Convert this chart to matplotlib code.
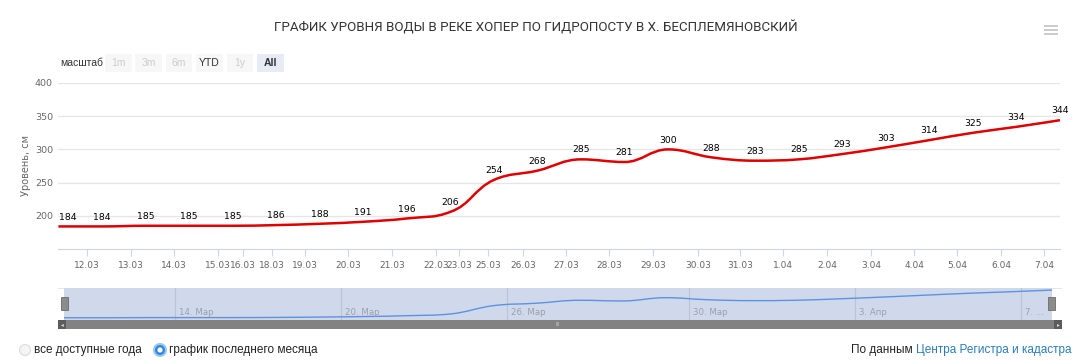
import numpy as np
import matplotlib
matplotlib.use("Agg")
import matplotlib.pyplot as plt
from matplotlib.path import Path
from matplotlib.patches import PathPatch, Rectangle, Circle

# water level, cm (one point per day, ordinal axis)
levels = [184, 184, 185, 185, 185, 186, 188, 191, 196, 206, 254, 268,
          285, 281, 300, 288, 283, 285, 293, 303, 314, 325, 334, 344]
tick_labels = ["12.03", "13.03", "14.03", "15.03", "16.03", "18.03", "19.03",
               "20.03", "21.03", "22.03", "23.03", "25.03", "26.03", "27.03",
               "28.03", "29.03", "30.03", "31.03", "1.04", "2.04", "3.04",
               "4.04", "5.04", "6.04", "7.04"]
tick_pos = [0.66, 1.67, 2.65, 3.66, 4.24, 4.90, 5.66, 6.65, 7.66, 8.67, 9.21,
            9.86, 10.67, 11.66, 12.64, 13.65, 14.69, 15.65, 16.64, 17.65,
            18.66, 19.65, 20.63, 21.65, 22.63]
nav_labels = ["14. Мар", "20. Мар", "26. Мар", "30. Мар", "3. Апр", "7. ..."]
nav_pos = [2.58, 6.45, 10.31, 14.55, 18.41, 22.28]
y_ticks = [200, 250, 300, 350, 400]

W, H = 1080, 363
fig = plt.figure(figsize=(W / 100, H / 100), dpi=100)

def px_axes(x0, y0, x1, y1):
    return fig.add_axes([x0 / W, 1 - y1 / H, (x1 - x0) / W, (y1 - y0) / H])

deco = fig.add_axes([0, 0, 1, 1])
deco.set_xlim(0, W)
deco.set_ylim(H, 0)
deco.axis("off")


def spline_path(ax, xs, ys):
    # highcharts-like spline, control points computed in display space
    pts = ax.transData.transform(np.column_stack([xs, ys]))
    n = len(pts)
    lc = pts.copy()
    rc = pts.copy()
    for i in range(1, n - 1):
        lx, ly = pts[i - 1]
        px, py = pts[i]
        nx, ny = pts[i + 1]
        lcx, lcy = (1.5 * px + lx) / 2.5, (1.5 * py + ly) / 2.5
        rcx, rcy = (1.5 * px + nx) / 2.5, (1.5 * py + ny) / 2.5
        dl = np.hypot(lcx - px, lcy - py)
        dr = np.hypot(rcx - px, rcy - py)
        la = np.arctan2(lcy - py, lcx - px)
        ra = np.arctan2(rcy - py, rcx - px)
        ja = np.pi / 2 + (la + ra) / 2
        if abs(la - ja) > np.pi / 2:
            ja -= np.pi
        lcx, lcy = px + np.cos(ja) * dl, py + np.sin(ja) * dl
        rcx, rcy = px + np.cos(np.pi + ja) * dr, py + np.sin(np.pi + ja) * dr
        if rcy > py and rcy > ny:
            rcy = max(py, ny); lcy = 2 * py - rcy
        elif rcy < py and rcy < ny:
            rcy = min(py, ny); lcy = 2 * py - rcy
        if lcy > ly and lcy > py:
            lcy = max(ly, py); rcy = 2 * py - lcy
        elif lcy < ly and lcy < py:
            lcy = min(ly, py); rcy = 2 * py - lcy
        lc[i] = (lcx, lcy)
        rc[i] = (rcx, rcy)
    verts = [pts[0]]
    codes = [Path.MOVETO]
    for i in range(1, n):
        verts += [rc[i - 1], lc[i], pts[i]]
        codes += [Path.CURVE4] * 3
    inv = ax.transData.inverted()
    return Path(inv.transform(np.array(verts)), codes)


# ---------------- main chart ----------------
ax = px_axes(58.4, 83, 1060, 249)
ax.set_facecolor("none")
x = np.arange(len(levels))
ax.set_xlim(0, len(levels) - 1)
ax.set_ylim(150, 400)
for s in ["top", "right", "left"]:
    ax.spines[s].set_visible(False)
ax.spines["bottom"].set_color("#ccd6eb")
ax.set_yticks(y_ticks)
ax.yaxis.grid(True, color="#e6e6e6", lw=1)
ax.set_axisbelow(True)
ax.tick_params(axis="y", length=0, labelsize=6.8, labelcolor="#666666", pad=4)
ax.set_xticks(tick_pos)
ax.set_xticklabels(tick_labels)
ax.tick_params(axis="x", length=5, color="#ccd6eb", labelsize=6.5,
               labelcolor="#666666", pad=4)
ax.set_ylabel("Уровень, см", fontsize=7, color="#666666", labelpad=3)

path = spline_path(ax, x, levels)
ax.add_patch(PathPatch(path, fill=False, edgecolor="#e00000", lw=1.8,
                       clip_on=False, zorder=3))
for i, v in enumerate(levels):
    dx = 7 if i == 0 else 0
    ax.annotate(str(v), (i, v), xytext=(dx, 3.5), textcoords="offset points",
                ha="center", va="bottom", fontsize=6.7, color="#000000",
                annotation_clip=False, zorder=4)

# ---------------- navigator ----------------
deco.add_patch(Rectangle((58, 288), 1004, 0.8, color="#e6e6e6", lw=0))
deco.add_patch(Rectangle((64, 288), 988, 32, facecolor="#d0d9ec", lw=0))
nav = px_axes(64, 288, 1052, 320)
nav.set_facecolor("none")
nav.set_xlim(0, len(levels) - 1)
nav.set_ylim(171, 356)
nav.axis("off")
for p, lab in zip(nav_pos, nav_labels):
    nav.axvline(p, color="#bcc3d3", lw=0.8, zorder=1)
    nav.annotate(lab, (p, 171), xytext=(3, 2), textcoords="offset points",
                 ha="left", va="bottom", fontsize=6.2, color="#9aa0aa")
nav.add_patch(PathPatch(spline_path(nav, x, levels), fill=False,
                        edgecolor="#5b93e0", lw=1, zorder=2))
# handles
for hx in (64, 1051):
    deco.add_patch(Rectangle((hx - 3.5, 297), 7, 13, facecolor="#8c8c8c",
                             edgecolor="#6b6b6b", lw=0.6))
# scrollbar
deco.add_patch(Rectangle((58, 320), 1004, 9, facecolor="#828282", lw=0))
deco.add_patch(Rectangle((58, 320), 8, 9, facecolor="#5c5c5c", lw=0))
deco.add_patch(Rectangle((1054, 320), 8, 9, facecolor="#5c5c5c", lw=0))
deco.text(62, 324.5, "◂", fontsize=4, color="#dddddd", ha="center", va="center")
deco.text(1058, 324.5, "▸", fontsize=4, color="#dddddd", ha="center", va="center")
deco.text(558, 324.5, "III", fontsize=3.5, color="#cccccc", ha="center",
          va="center")

# ---------------- title, menu, range selector ----------------
deco.text(536, 27, "ГРАФИК УРОВНЯ ВОДЫ В РЕКЕ ХОПЕР ПО ГИДРОПОСТУ В Х. БЕСПЛЕМЯНОВСКИЙ",
          ha="center", va="center", fontsize=9.6, color="#333333",
          family=["Liberation Sans Narrow", "Roboto"])
for yy in (26, 30, 34):
    deco.add_patch(Rectangle((1044, yy - 1), 14, 2, color="#cccccc", lw=0))

deco.text(60, 63, "масштаб", ha="left", va="center", fontsize=7.5,
          color="#333333", family="Liberation Sans")
buttons = ["1m", "3m", "6m", "YTD", "1y", "All"]
for k, b in enumerate(buttons):
    bx = 105 + 30.4 * k
    bg = "#e6ebf5" if b == "All" else "#f7f7f7"
    tc = "#333333" if b in ("YTD", "All") else "#cccccc"
    deco.add_patch(Rectangle((bx, 54), 26.5, 18, facecolor=bg, lw=0))
    deco.text(bx + 13.3, 63, b, ha="center", va="center", fontsize=7.5,
              color=tc, family="Liberation Sans",
              weight="bold" if b == "All" else "normal")

# ---------------- bottom controls ----------------
deco.add_patch(Circle((25, 350), 5.5, facecolor="#f4f4f4", edgecolor="#dddddd",
                      lw=0.8))
deco.add_patch(Circle((160, 350), 6, facecolor="#2f86d8", edgecolor="#9cc8ef",
                      lw=1.5))
deco.add_patch(Circle((160, 350), 2.6, facecolor="white", lw=0))
deco.text(34, 350, "все доступные года", ha="left", va="center", fontsize=8.5,
          color="#222222", family="Liberation Sans")
deco.text(169, 350, "график последнего месяца", ha="left", va="center",
          fontsize=8.5, color="#222222", family="Liberation Sans")
t1 = deco.text(1071, 350, "Центра Регистра и кадастра", ha="right",
               va="center", fontsize=8.5, color="#2b7cb8",
               family="Liberation Sans")
fig.canvas.draw()
bb = t1.get_window_extent().transformed(deco.transData.inverted())
deco.text(bb.x0, 350, "По данным ", ha="right", va="center", fontsize=8.5,
          color="#222222", family="Liberation Sans")

fig.savefig("out.png", dpi=100)
